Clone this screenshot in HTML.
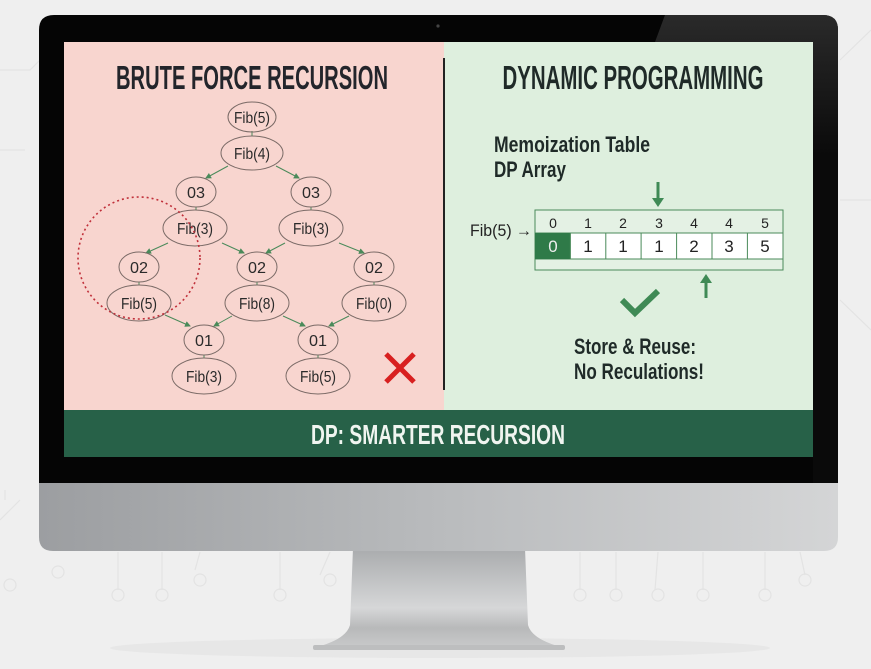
<!DOCTYPE html>
<html><head><meta charset="utf-8"><style>
html,body{margin:0;padding:0;background:#efefef;}
svg{display:block}
text{font-family:"Liberation Sans Narrow","Liberation Sans",sans-serif;}
</style></head><body>
<svg width="871" height="669" viewBox="0 0 871 669" xmlns="http://www.w3.org/2000/svg">
<defs>
<linearGradient id="chin" x1="0" x2="1" y1="0" y2="0">
<stop offset="0" stop-color="#9c9ea1"/><stop offset="0.5" stop-color="#b9bbbd"/><stop offset="1" stop-color="#d4d5d6"/></linearGradient>
<linearGradient id="stand" x1="0" x2="0" y1="0" y2="1">
<stop offset="0" stop-color="#a9abad"/><stop offset="0.6" stop-color="#d6d7d8"/><stop offset="0.8" stop-color="#b8b9ba"/><stop offset="1" stop-color="#c9cacb"/></linearGradient>
<linearGradient id="glare" x1="0" x2="0" y1="0" y2="1">
<stop offset="0" stop-color="#2a2a2a"/><stop offset="0.3" stop-color="#0a0a0a"/></linearGradient>
<marker id="ah" markerWidth="6" markerHeight="6" refX="5" refY="3" orient="auto"><path d="M0,0 L6,3 L0,6z" fill="#4a8a5a"/></marker>
</defs>
<rect width="871" height="669" fill="#efefef"/>
<g stroke="#e3e3e3" stroke-width="1.2" fill="none">
<path d="M0,70 H30 L60,40 M0,150 H25 M840,60 L871,30 M840,200 H871 M840,300 L871,330 M0,520 L20,500 M5,500 V490"/>
<path d="M118,552 V590 M162,552 V590 M200,552 L195,570 M280,552 V590 M330,552 L320,575 M580,552 V590 M616,552 V590 M658,552 L655,590 M703,552 V590 M765,552 V590 M800,552 L805,575"/>
<circle cx="118" cy="595" r="6"/><circle cx="162" cy="595" r="6"/><circle cx="200" cy="580" r="6"/><circle cx="280" cy="595" r="6"/><circle cx="330" cy="580" r="6"/><circle cx="580" cy="595" r="6"/><circle cx="616" cy="595" r="6"/><circle cx="658" cy="595" r="6"/><circle cx="703" cy="595" r="6"/><circle cx="765" cy="595" r="6"/><circle cx="805" cy="580" r="6"/><circle cx="10" cy="585" r="6"/><circle cx="58" cy="572" r="6"/>
</g>
<ellipse cx="440" cy="648" rx="330" ry="10" fill="#e7e7e7"/>
<path d="M353,548 L525,548 L528,625 Q532,640 565,648 L313,648 Q346,640 350,625 Z" fill="url(#stand)"/>
<rect x="313" y="645" width="252" height="5" rx="2" fill="#bdbebf"/>
<path d="M39,470 H838 V537 Q838,551 824,551 H53 Q39,551 39,537 Z" fill="url(#chin)"/>
<path d="M54,15 H823 Q838,15 838,30 V483 H39 V30 Q39,15 54,15 Z" fill="#050505"/>
<path d="M665,15 H823 Q838,15 838,30 V483 H813 V42 H655 Z" fill="url(#glare)"/>
<circle cx="438" cy="26" r="1.6" fill="#444"/>
<rect x="64" y="42" width="380" height="368" fill="#f8d5cf"/>
<rect x="444" y="42" width="369" height="368" fill="#deefde"/>
<line x1="444" y1="58" x2="444" y2="390" stroke="#222" stroke-width="2"/>
<rect x="64" y="410" width="749" height="47" fill="#276148"/>
<text x="438" y="444" font-size="28" font-weight="bold" fill="#f0f5f0" text-anchor="middle" textLength="254" lengthAdjust="spacingAndGlyphs">DP: SMARTER RECURSION</text>
<text x="252" y="89" font-size="33" font-weight="bold" fill="#23252b" text-anchor="middle" textLength="272" lengthAdjust="spacingAndGlyphs">BRUTE FORCE RECURSION</text>
<text x="633" y="89" font-size="33" font-weight="bold" fill="#1f2a28" text-anchor="middle" textLength="261" lengthAdjust="spacingAndGlyphs">DYNAMIC PROGRAMMING</text>
<g stroke="#4a8a5a" stroke-width="1" fill="none" marker-end="url(#ah)">
<path d="M228,166 L206,178"/><path d="M276,166 L299,178"/>
<path d="M168,243 L146,253"/><path d="M222,243 L244,253"/>
<path d="M285,243 L266,253"/><path d="M339,243 L364,253"/>
<path d="M165,315 L190,326"/><path d="M232,316 L214,326"/>
<path d="M283,316 L305,326"/><path d="M349,316 L329,326"/>
</g>
<g stroke="#4a8a5a" stroke-width="1"><path d="M252,131 V136 M196,207 V210 M311,207 V210 M139,282 V285 M257,282 V285 M374,282 V285 M204,355 V358 M318,355 V358"/></g>
<g fill="none" stroke="#7a6a66" stroke-width="1">
<ellipse cx="252" cy="117" rx="24" ry="15"/>
<ellipse cx="252" cy="153" rx="31" ry="17"/>
<ellipse cx="196" cy="192" rx="20" ry="15"/><ellipse cx="311" cy="192" rx="20" ry="15"/>
<ellipse cx="195" cy="228" rx="32" ry="18"/><ellipse cx="311" cy="228" rx="32" ry="18"/>
<ellipse cx="139" cy="267" rx="20" ry="15"/><ellipse cx="257" cy="267" rx="20" ry="15"/><ellipse cx="374" cy="267" rx="20" ry="15"/>
<ellipse cx="139" cy="303" rx="32" ry="18"/><ellipse cx="257" cy="303" rx="32" ry="18"/><ellipse cx="374" cy="303" rx="32" ry="18"/>
<ellipse cx="204" cy="340" rx="20" ry="15"/><ellipse cx="318" cy="340" rx="20" ry="15"/>
<ellipse cx="204" cy="376" rx="32" ry="18"/><ellipse cx="318" cy="376" rx="32" ry="18"/>
</g>
<g font-size="16" fill="#2a2a2a" text-anchor="middle" lengthAdjust="spacingAndGlyphs">
<text x="252" y="123" textLength="36" lengthAdjust="spacingAndGlyphs">Fib(5)</text><text x="252" y="159" textLength="36" lengthAdjust="spacingAndGlyphs">Fib(4)</text>
<text x="196" y="198" textLength="18" lengthAdjust="spacingAndGlyphs">03</text><text x="311" y="198" textLength="18" lengthAdjust="spacingAndGlyphs">03</text>
<text x="195" y="234" textLength="36" lengthAdjust="spacingAndGlyphs">Fib(3)</text><text x="311" y="234" textLength="36" lengthAdjust="spacingAndGlyphs">Fib(3)</text>
<text x="139" y="273" textLength="18" lengthAdjust="spacingAndGlyphs">02</text><text x="257" y="273" textLength="18" lengthAdjust="spacingAndGlyphs">02</text><text x="374" y="273" textLength="18" lengthAdjust="spacingAndGlyphs">02</text>
<text x="139" y="309" textLength="36" lengthAdjust="spacingAndGlyphs">Fib(5)</text><text x="257" y="309" textLength="36" lengthAdjust="spacingAndGlyphs">Fib(8)</text><text x="374" y="309" textLength="36" lengthAdjust="spacingAndGlyphs">Fib(0)</text>
<text x="204" y="346" textLength="18" lengthAdjust="spacingAndGlyphs">01</text><text x="318" y="346" textLength="18" lengthAdjust="spacingAndGlyphs">01</text>
<text x="204" y="382" textLength="36" lengthAdjust="spacingAndGlyphs">Fib(3)</text><text x="318" y="382" textLength="36" lengthAdjust="spacingAndGlyphs">Fib(5)</text>
</g>
<circle cx="139" cy="258" r="61" fill="none" stroke="#c0303a" stroke-width="1.6" stroke-dasharray="2,3"/>
<path d="M386,354 L414,382 M414,354 L386,382" stroke="#d82020" stroke-width="5"/>
<g font-size="22" font-weight="bold" fill="#1f2a28">
<text x="494" y="152" textLength="156" lengthAdjust="spacingAndGlyphs">Memoization Table</text>
<text x="494" y="177" textLength="72" lengthAdjust="spacingAndGlyphs">DP Array</text>
<text x="574" y="354" textLength="122" lengthAdjust="spacingAndGlyphs">Store &amp; Reuse:</text>
<text x="574" y="379" textLength="130" lengthAdjust="spacingAndGlyphs">No Reculations!</text>
</g>
<text x="470" y="236" font-size="17" fill="#222" textLength="62" lengthAdjust="spacingAndGlyphs">Fib(5) →</text>
<rect x="535" y="210" width="248" height="60" fill="#e4f1e4" stroke="#4a8a5a" stroke-width="1"/>
<rect x="535" y="233" width="248" height="26" fill="#fff" stroke="#4a8a5a" stroke-width="1"/>
<rect x="535" y="233" width="35.4" height="26" fill="#2f7a48"/>
<g stroke="#4a8a5a" stroke-width="1"><path d="M570.4,233 V259 M605.8,233 V259 M641.1,233 V259 M676.6,233 V259 M712,233 V259 M747.4,233 V259"/></g>
<g font-size="14" fill="#222" text-anchor="middle">
<text x="553" y="228">0</text><text x="588" y="228">1</text><text x="623" y="228">2</text><text x="659" y="228">3</text><text x="694" y="228">4</text><text x="729" y="228">4</text><text x="765" y="228">5</text>
</g>
<g font-size="17" fill="#222" text-anchor="middle">
<text x="553" y="252" fill="#eee">0</text><text x="588" y="252">1</text><text x="623" y="252">1</text><text x="659" y="252">1</text><text x="694" y="252">2</text><text x="729" y="252">3</text><text x="765" y="252">5</text>
</g>
<path d="M658,182 V200" stroke="#3f8a55" stroke-width="3"/><path d="M652,198 L664,198 L658,207z" fill="#3f8a55"/>
<path d="M706,298 V282" stroke="#3f8a55" stroke-width="3"/><path d="M700,283 L712,283 L706,274z" fill="#3f8a55"/>
<path d="M622,300 L635,313 L658,291" fill="none" stroke="#3f8a55" stroke-width="6"/>
</svg>
</body></html>
